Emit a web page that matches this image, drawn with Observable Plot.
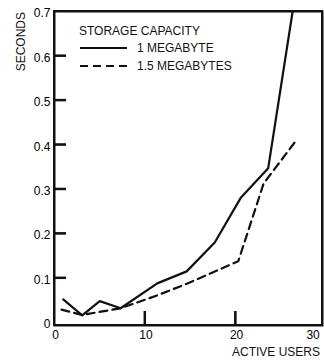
<!DOCTYPE html>
<html>
<head>
<meta charset="utf-8">
<script src="https://cdn.jsdelivr.net/npm/d3@7"></script>
<script src="https://cdn.jsdelivr.net/npm/@observablehq/plot@0.6"></script>
<style>
  html, body { margin: 0; padding: 0; background: #fff; }
  #chart { position: relative; width: 324px; height: 361px; }
  .lbl { position: absolute; font-family: "Liberation Sans", Arial, Helvetica, sans-serif; font-size: 12px; line-height: 12px; color: #111; white-space: nowrap; }
  #overlay { position: absolute; left: 0; top: 0; pointer-events: none; }
</style>
</head>
<body>
<div id="chart"></div>
<script>
// Active users (x) and response time in seconds (y)
const usersOneMB = [0.96, 3.06, 5.0, 7.3, 11.35, 14.6, 17.7, 20.55, 23.6, 26.3];
const secondsOneMB = [0.052, 0.016, 0.048, 0.032, 0.088, 0.115, 0.18, 0.28, 0.347, 0.70];
const usersOneHalfMB = [0.77, 3.06, 7.3, 11.35, 14.6, 20.3, 23.1, 26.7];
const secondsOneHalfMB = [0.029, 0.017, 0.032, 0.061, 0.087, 0.138, 0.313, 0.41];

const seriesNames = ["1 MEGABYTE", "1.5 MEGABYTES"];
const legendTitle = "STORAGE CAPACITY";
const xLabel = "ACTIVE USERS";
const yLabel = "SECONDS";
const xTickValues = [0, 10, 20, 30];
const xInnerTicks = [10, 20];
const yTickValues = [0, 0.1, 0.2, 0.3, 0.4, 0.5, 0.6, 0.7];
const yInnerTicks = [0.1, 0.2, 0.3, 0.4, 0.5, 0.6];

const one = usersOneMB.map((x, i) => ({x, y: secondsOneMB[i]}));
const oneHalf = usersOneHalfMB.map((x, i) => ({x, y: secondsOneHalfMB[i]}));

const fmtY = d => d === 0 ? "0" : d.toFixed(1);
const font = '"Liberation Sans", Arial, Helvetica, sans-serif';

const svg = Plot.plot({
  width: 324,
  height: 361,
  marginLeft: 54,
  marginRight: 2,
  marginTop: 11,
  marginBottom: 36,
  x: {domain: [0, 29.6]},
  y: {domain: [-0.0068, 0.7]},
  marks: [
    Plot.frame({stroke: "#111", strokeWidth: 2}),
    Plot.axisY(yInnerTicks, {anchor: "left", tickSize: -12, text: null, stroke: "#111", strokeWidth: 2, label: null}),
    Plot.axisX(xInnerTicks, {anchor: "bottom", tickSize: -14, text: null, stroke: "#111", strokeWidth: 2, label: null}),
    Plot.axisY(yTickValues, {anchor: "left", tickSize: 0, tickPadding: 4, tickFormat: fmtY, fontSize: 12, fontFamily: font, label: null, dy: 2}),
    Plot.axisX(xTickValues.slice(0, 3), {anchor: "bottom", tickSize: 0, tickPadding: 5, fontSize: 12, fontFamily: font, label: null, dx: 1}),
    Plot.axisX(xTickValues.slice(3), {anchor: "bottom", tickSize: 0, tickPadding: 5, fontSize: 12, fontFamily: font, label: null, dx: -13}),
    Plot.line(one, {x: "x", y: "y", stroke: "#111", strokeWidth: 2.2}),
    Plot.line(oneHalf, {x: "x", y: "y", stroke: "#111", strokeWidth: 2.2, strokeDasharray: "8,5"})
  ]
});

const chart = document.getElementById("chart");
chart.appendChild(svg);

// Frame and inward ticks repeated on an overlay, positioned through Plot's own scales
const xs = svg.scale("x"), ys = svg.scale("y");
const [x0, x1] = xs.range, [yb, yt] = ys.range;
const ov = d3.create("svg").attr("id", "overlay").attr("width", 324).attr("height", 361);
const edges = [[x0, yb, x0, yt], [x1, yb, x1, yt], [x0, yt, x1, yt], [x0, yb, x1, yb]];
for (const [a, b, c, d] of edges) {
  ov.append("line").attr("x1", a).attr("y1", b).attr("x2", c).attr("y2", d)
    .attr("stroke", "#111").attr("stroke-width", 2).attr("stroke-linecap", "square");
}
for (const v of yInnerTicks) {
  const y = ys.apply(v);
  ov.append("line").attr("x1", x0).attr("x2", x0 + 12).attr("y1", y).attr("y2", y)
    .attr("stroke", "#111").attr("stroke-width", 2);
}
for (const v of xInnerTicks) {
  const x = xs.apply(v);
  ov.append("line").attr("x1", x).attr("x2", x).attr("y1", yb).attr("y2", yb - 14)
    .attr("stroke", "#111").attr("stroke-width", 2);
}
// Legend line samples
ov.append("line").attr("x1", 80).attr("x2", 127).attr("y1", 48).attr("y2", 48)
  .attr("stroke", "#111").attr("stroke-width", 2.2);
ov.append("line").attr("x1", 80).attr("x2", 127).attr("y1", 66).attr("y2", 66)
  .attr("stroke", "#111").attr("stroke-width", 2.2).attr("stroke-dasharray", "8,5");
chart.appendChild(ov.node());

function addLabel(txt, style) {
  const d = document.createElement("div");
  d.className = "lbl";
  d.textContent = txt;
  Object.assign(d.style, style);
  chart.appendChild(d);
  return d;
}
// Axis titles
addLabel(yLabel, {left: "0px", top: "0px", transformOrigin: "0 0", transform: "translate(15px, 12px) rotate(-90deg) translateX(-100%)"});
addLabel(xLabel, {right: "4px", top: "346px"});
// Legend
addLabel(legendTitle, {left: "79px", top: "25px"});
addLabel(seriesNames[0], {left: "137px", top: "42px"});
addLabel(seriesNames[1], {left: "137px", top: "60px"});
</script>
</body>
</html>
